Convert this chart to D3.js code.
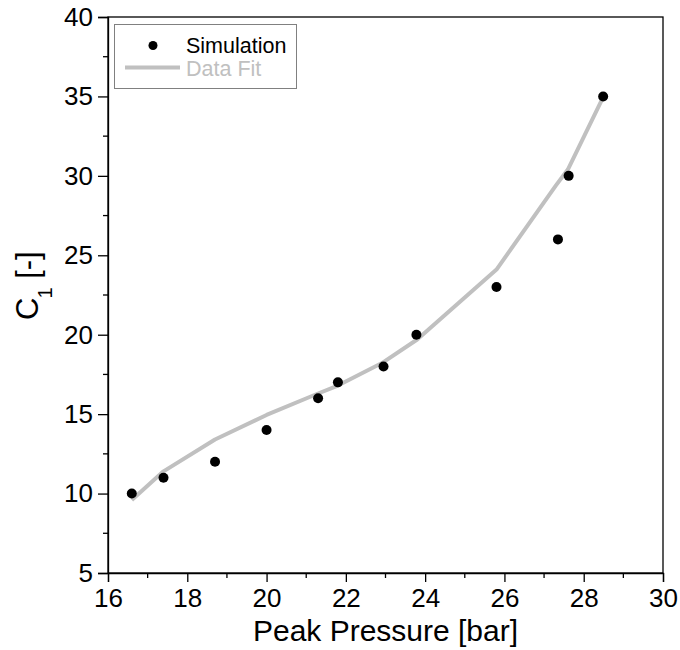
<!DOCTYPE html>
<html>
<head>
<meta charset="utf-8">
<script src="https://cdn.jsdelivr.net/npm/d3@7"></script>
<style>
  html, body { margin: 0; padding: 0; background: #fff; }
  svg { display: block; font-family: "Liberation Sans", Arial, sans-serif; }
</style>
</head>
<body>
<svg id="chart" width="680" height="650"></svg>
<script>
// Simulated C1 values against peak pressure
const simPressure = [16.6, 17.4, 18.7, 20.0, 21.3, 21.8, 22.95, 23.78, 25.8, 27.35, 27.62, 28.49];
const simC1       = [10, 11, 12, 14, 16, 17, 18, 20, 23, 26, 30, 35];

// Fitted curve through the simulation results
const fitPressure = [16.6, 17.4, 18.7, 20.0, 21.3, 21.8, 22.9, 23.8, 25.8, 27.3, 27.6, 28.5];
const fitC1       = [9.6, 11.4, 13.4, 14.95, 16.3, 16.8, 18.2, 19.7, 24.1, 29.4, 30.4, 35.0];

const xTicks = [16, 18, 20, 22, 24, 26, 28, 30];
const yTicks = [5, 10, 15, 20, 25, 30, 35, 40];
const xMinor = [17, 19, 21, 23, 25, 27, 29];
const yMinor = [7.5, 12.5, 17.5, 22.5, 27.5, 32.5, 37.5];

const svg = d3.select("#chart");
const m = { left: 108, right: 663, top: 17, bottom: 573 };

const x = d3.scaleLinear().domain([16, 30]).range([m.left, m.right]);
const y = d3.scaleLinear().domain([5, 40]).range([m.bottom, m.top]);

// Frame
svg.append("rect")
  .attr("x", m.left).attr("y", m.top)
  .attr("width", m.right - m.left).attr("height", m.bottom - m.top)
  .attr("fill", "none").attr("stroke", "#000").attr("stroke-width", 1.3);

// Bottom axis
const xAxis = svg.append("g").attr("transform", `translate(0,${m.bottom})`)
  .call(d3.axisBottom(x).tickValues(xTicks).tickSize(9).tickPadding(6).tickFormat(d3.format("d")));
xAxis.append("g").selectAll("line").data(xMinor).join("line")
  .attr("x1", d => x(d)).attr("x2", d => x(d)).attr("y1", 0).attr("y2", 5)
  .attr("stroke", "#000").attr("stroke-width", 1.3);

// Left axis
const yAxis = svg.append("g").attr("transform", `translate(${m.left},0)`)
  .call(d3.axisLeft(y).tickValues(yTicks).tickSize(10).tickPadding(5).tickFormat(d3.format("d")));
yAxis.append("g").selectAll("line").data(yMinor).join("line")
  .attr("x1", 0).attr("x2", -5).attr("y1", d => y(d)).attr("y2", d => y(d))
  .attr("stroke", "#000").attr("stroke-width", 1.3);

svg.selectAll(".domain").attr("stroke", "#000").attr("stroke-width", 1.3);
svg.selectAll(".tick line").attr("stroke", "#000").attr("stroke-width", 1.3);
svg.selectAll(".tick text")
  .attr("font-family", "'Liberation Sans', Arial, sans-serif")
  .attr("font-size", 26).attr("fill", "#000");
xAxis.selectAll(".tick text").attr("dy", 0).attr("y", 34);

// Axis titles
svg.append("text")
  .attr("x", (m.left + m.right) / 2).attr("y", 641)
  .attr("text-anchor", "middle").attr("font-size", 30).attr("fill", "#000")
  .text("Peak Pressure [bar]");

const yt = svg.append("text")
  .attr("transform", "translate(38,320) rotate(-90)")
  .attr("text-anchor", "start").attr("font-size", 31).attr("fill", "#000");
yt.append("tspan").text("C");
yt.append("tspan").attr("font-size", 20).attr("dy", 14).attr("dx", -1).text("1");
yt.append("tspan").attr("dy", -14).text(" [-]");

// Fit curve
const line = d3.line().x(d => x(d[0])).y(d => y(d[1]));
svg.append("path")
  .datum(d3.zip(fitPressure, fitC1))
  .attr("d", line)
  .attr("fill", "none").attr("stroke", "#c0c0c0").attr("stroke-width", 4)
  .attr("stroke-linejoin", "round");

// Simulation points
svg.append("g").selectAll("circle")
  .data(d3.zip(simPressure, simC1)).join("circle")
  .attr("cx", d => x(d[0])).attr("cy", d => y(d[1])).attr("r", 5)
  .attr("fill", "#000");

// Legend
const lg = svg.append("g");
lg.append("rect").attr("x", 114.5).attr("y", 24.5).attr("width", 182).attr("height", 64)
  .attr("fill", "#fff").attr("stroke", "#808080").attr("stroke-width", 1);
lg.append("circle").attr("cx", 153).attr("cy", 45.5).attr("r", 4.5).attr("fill", "#000");
lg.append("text").attr("x", 186).attr("y", 53).attr("font-size", 21.5).attr("fill", "#000").text("Simulation");
lg.append("line").attr("x1", 125).attr("x2", 180).attr("y1", 67.5).attr("y2", 67.5)
  .attr("stroke", "#c0c0c0").attr("stroke-width", 4);
lg.append("text").attr("x", 186).attr("y", 75.5).attr("font-size", 21.5).attr("fill", "#c0c0c0").text("Data Fit");
</script>
</body>
</html>
